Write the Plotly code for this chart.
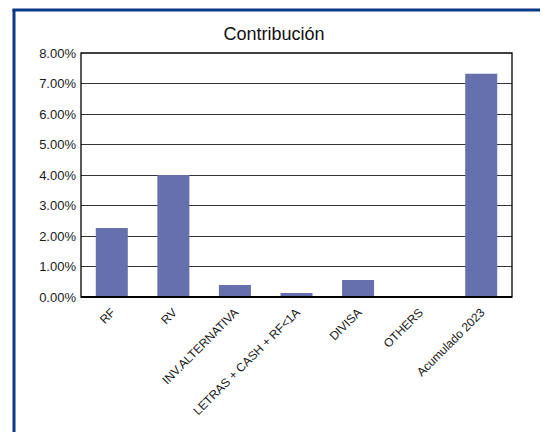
import plotly.graph_objects as go

categories = ["RF", "RV", "INV.ALTERNATIVA", "LETRAS + CASH + RF<1A", "DIVISA", "OTHERS", "Acumulado 2023"]
values = [0.0226, 0.0400, 0.0039, 0.0013, 0.0056, 0.0, 0.0732]
tick_vals = [0, 0.01, 0.02, 0.03, 0.04, 0.05, 0.06, 0.07, 0.08]
tick_text = ["0.00%", "1.00%", "2.00%", "3.00%", "4.00%", "5.00%", "6.00%", "7.00%", "8.00%"]

# page body has an 8px default margin, so work in figure coordinates shifted by 8
OFF = 8
W, H = 548 - OFF, 432 - OFF
L, T = 81 - OFF, 53 - OFF
pw, ph = 431, 244
R = W - L - pw
B = H - T - ph

def px(x):
    return (x - OFF - L) / pw

def py(y):
    return (T + ph - (y - OFF)) / ph

fig = go.Figure(go.Bar(
    x=categories, y=values,
    marker=dict(color="#6670AC", line=dict(width=0)),
    width=0.52,
))

fig.update_layout(
    width=W, height=H,
    margin=dict(l=L, r=R, t=T, b=B, pad=0),
    paper_bgcolor="white", plot_bgcolor="white",
    showlegend=False,
    font=dict(family="Liberation Sans, Arial, sans-serif", color="#1a1a1a", size=12),
    title=dict(text="Contribución", x=(274 - OFF) / W, xanchor="center", y=1 - (34 - OFF) / H, yanchor="middle",
               font=dict(size=18, color="#111")),
    xaxis=dict(
        tickangle=-45, showgrid=False, showline=False, ticks="",
        ticklabelstandoff=5,
        tickfont=dict(size=12, color="#1a1a1a"), range=[-0.5, 6.5],
    ),
    yaxis=dict(
        range=[0, 0.08], tickvals=tick_vals, ticktext=tick_text,
        showgrid=True, gridcolor="#333", gridwidth=1,
        showline=False, ticks="", zeroline=False,
        ticklabelstandoff=4,
        tickfont=dict(size=13, color="#1a1a1a"),
    ),
    shapes=[
        dict(type="rect", xref="paper", yref="paper", x0=0, y0=0, x1=1, y1=1,
             line=dict(color="black", width=1.3)),
        dict(type="line", xref="paper", yref="paper", x0=0, y0=0, x1=1, y1=0,
             line=dict(color="black", width=2)),
        dict(type="line", xref="paper", yref="paper", x0=px(14), x1=px(14), y0=py(9), y1=py(440),
             line=dict(color="#0A3A84", width=3)),
        dict(type="line", xref="paper", yref="paper", x0=px(12.5), x1=px(550), y0=py(10), y1=py(10),
             line=dict(color="#0A3A84", width=3)),
        dict(type="line", xref="paper", yref="paper", x0=px(546.5), x1=px(546.5), y0=py(11), y1=py(440),
             line=dict(color="#6F88B8", width=1)),
    ],
)

fig.write_html("out.html")
